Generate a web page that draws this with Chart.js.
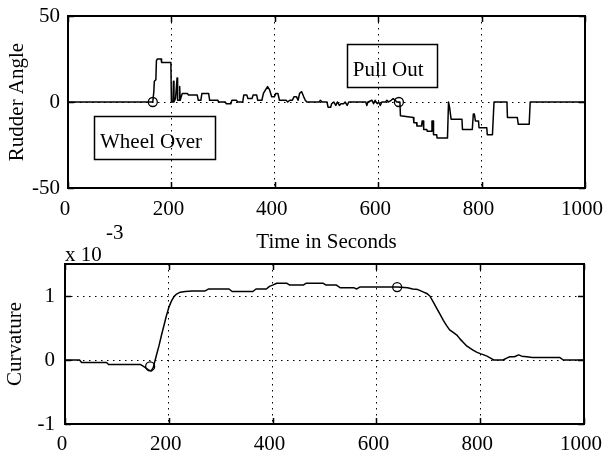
<!DOCTYPE html>
<html>
<head>
<meta charset="utf-8">
<script src="https://cdn.jsdelivr.net/npm/chart.js@4.4.0/dist/chart.umd.min.js"></script>
<style>
  html, body { margin: 0; padding: 0; background: #fff; }
  #wrap { position: relative; width: 604px; height: 457px; }
  #wrap canvas { position: absolute; left: 0; top: 0; }
</style>
</head>
<body>
<div id="wrap">
  <canvas id="rudder" width="604" height="457"></canvas>
  <canvas id="curv" width="604" height="457"></canvas>
</div>
<script>
// rudder angle (deg) against time (s)
const rudderTime = [
  0, 164, 166, 167, 170, 171, 173, 180, 181, 199, 200, 203, 204, 205, 208, 211, 212, 215, 216, 217,
  221, 231, 233, 250, 252, 257, 259, 272, 274, 290, 291, 304, 306, 315, 317, 326, 328, 338, 340,
  346, 348, 356, 358, 365, 367, 375, 378, 382, 386, 390, 394, 399, 402, 406, 409, 422, 425, 429, 434,
  437, 442, 445, 448, 452, 456, 459, 462, 486, 488, 492, 501, 503, 508, 510, 514, 518, 521, 525, 528,
  533, 536, 540, 543, 576, 578, 580, 588, 591, 594, 598, 601, 604, 607, 614, 617, 620, 625, 629, 633,
  636, 642, 643, 668, 669, 674, 675, 684, 685, 687, 688, 694, 695, 703, 704, 706, 707, 713, 714, 734,
  736, 738, 741, 762, 763, 782, 784, 786, 788, 794, 795, 810, 811, 821, 824, 849, 850, 869, 871, 892,
  894, 1000
];
const rudderAngle = [
  0, 0, 6, 12, 13, 24, 25, 25, 23, 23, 0, 0, 12, 0, 2, 14, 1, 1, 9, 1,
  5, 5, 4, 4, 1, 1, 5, 5, 1, 1, 0, 0, -1, -1, 1, 1, 0, 0, 4,
  4, 2, 2, 4, 4, 1, 1, 5, 7, 9, 7, 3, 3, 5, 5, 1, 1, 0, 1, 1,
  3, 3, 1, 5, 6, 3, 1, 0, 0, 1, 0, 0, -3, -3, -1, 0, -2, 0, -2, -1,
  -1, 0, -2, 0, 0, -2, 0, 1, -1, 1, -1, 0, -2, 0, 0, 1, 0, 1, 2, 1,
  0, 0, -8, -9, -12, -12, -14, -14, -11, -11, -16, -16, -17, -17, -11, -11, -19, -19, -21, -21,
  0, -3, -10, -10, -16, -16, -7, -7, -11, -11, -15, -15, -19, -19, 0, 0, -9, -9, -13, -13,
  0, 0
];

// path curvature (x 10^-3) against time (s)
const curvTime = [
  0, 28, 32, 80, 84, 145, 155, 162, 166, 170, 176, 181, 186, 191, 195, 200, 205, 210, 215, 222,
  232, 245, 270, 277, 316, 322, 362, 368, 388, 394, 400, 408, 427, 433, 459, 465, 497, 503, 523, 530,
  556, 562, 568, 600, 640, 660, 670, 680, 691, 697, 703, 710, 716, 723, 729, 735, 741, 748, 755, 761,
  768, 774, 781, 787, 794, 800, 807, 813, 820, 826, 844, 851, 857, 866, 874, 880, 890, 900, 953, 960,
  1000
];
const curvValue = [
  0, 0, -0.04, -0.04, -0.07, -0.07, -0.12, -0.16, -0.17, -0.12, 0.07, 0.22, 0.39, 0.55, 0.68, 0.82, 0.92, 0.99, 1.03, 1.06,
  1.07, 1.08, 1.08, 1.11, 1.11, 1.07, 1.07, 1.11, 1.11, 1.15, 1.17, 1.2, 1.2, 1.17, 1.17, 1.2, 1.2, 1.17, 1.17, 1.13,
  1.13, 1.11, 1.14, 1.14, 1.14, 1.13, 1.11, 1.1, 1.06, 1.04, 1.0, 0.9, 0.81, 0.71, 0.62, 0.54, 0.47, 0.43, 0.39, 0.33,
  0.27, 0.22, 0.18, 0.15, 0.12, 0.1, 0.08, 0.06, 0.03, 0.0, 0.0, 0.03, 0.05, 0.05, 0.08, 0.06, 0.05, 0.04, 0.04, 0.0,
  0.0
];

// wheel over / pull out instants
const eventTime = [164, 640];
const eventRudder = [0, 0];
const eventCurv = [-0.1, 1.14];
const eventNames = ['Wheel Over', 'Pull Out'];
// text anchors (time, rudder angle) for the two boxed labels
const eventLabelAt = [[62, -27], [551, 15]];

const timeTicks = [0, 200, 400, 600, 800, 1000];
const rudderTicks = [-50, 0, 50];
const curvTicks = [-1, 0, 1];

const FONT = "'Liberation Serif', 'Times New Roman', serif";
const font = { family: FONT, size: 21 };

function pts(xs, ys) {
  return xs.map((x, i) => ({ x, y: ys[i] }));
}

// pin axis thickness so both plot boxes land where we want them
function fixSize(size) {
  return scale => {
    if (scale.isHorizontal()) scale.height = size;
    else scale.width = size;
    scale.paddingLeft = scale.paddingRight = scale.paddingTop = scale.paddingBottom = 0;
  };
}

function useTicks(list) {
  return scale => { scale.ticks = list.map(value => ({ value })); };
}

// MATLAB-ish axes box with inward tick marks
const frame = {
  id: 'frame',
  afterDatasetsDraw(chart) {
    const { ctx, chartArea: a, scales } = chart;
    ctx.save();
    ctx.strokeStyle = '#000';
    ctx.lineWidth = 1.5;
    ctx.beginPath();
    scales.x.ticks.forEach(t => {
      const px = Math.round(scales.x.getPixelForValue(t.value)) + 0.5;
      ctx.moveTo(px, a.bottom); ctx.lineTo(px, a.bottom - 6);
      ctx.moveTo(px, a.top); ctx.lineTo(px, a.top + 6);
    });
    scales.y.ticks.forEach(t => {
      const py = Math.round(scales.y.getPixelForValue(t.value)) + 0.5;
      ctx.moveTo(a.left, py); ctx.lineTo(a.left + 6, py);
      ctx.moveTo(a.right, py); ctx.lineTo(a.right - 6, py);
    });
    ctx.stroke();
    ctx.lineWidth = 2;
    ctx.strokeRect(a.left, a.top, a.width, a.height);
    ctx.restore();
  }
};

const boxedLabels = {
  id: 'boxedLabels',
  afterDraw(chart) {
    const { ctx, scales } = chart;
    ctx.save();
    ctx.font = `21px ${FONT}`;
    ctx.fillStyle = '#000';
    ctx.strokeStyle = '#000';
    ctx.lineWidth = 1.5;
    ctx.textBaseline = 'alphabetic';
    eventNames.forEach((name, i) => {
      const x = scales.x.getPixelForValue(eventLabelAt[i][0]);
      const y = scales.y.getPixelForValue(eventLabelAt[i][1]);
      const w = ctx.measureText(name).width;
      ctx.fillText(name, x, y);
      ctx.strokeRect(Math.round(x - 6) + 0.5, Math.round(y - 32) + 0.5, Math.round(w + 19), 43);
    });
    ctx.restore();
  }
};

const exponent = {
  id: 'exponent',
  afterDraw(chart) {
    const { ctx, chartArea: a } = chart;
    ctx.save();
    ctx.font = `21px ${FONT}`;
    ctx.fillStyle = '#000';
    ctx.textBaseline = 'alphabetic';
    ctx.fillText('x 10', a.left, a.top - 3);
    ctx.fillText('-3', a.left + 41, a.top - 25);
    ctx.restore();
  }
};

function axisX(height, tickPad, title) {
  return {
    type: 'linear', min: 0, max: 1000,
    afterBuildTicks: useTicks(timeTicks),
    afterFit: fixSize(height),
    grid: { color: '#000', lineWidth: 1, drawTicks: false },
    border: { display: false, dash: [1.5, 4.5] },
    ticks: {
      font, color: '#000', padding: tickPad, labelOffset: -3, maxRotation: 0, autoSkip: false,
      callback: v => String(v)
    },
    title: title
      ? { display: true, text: title, font, color: '#000', padding: { top: 0, bottom: 3 } }
      : { display: false }
  };
}

function axisY(min, max, ticks, width, tickPad, title, titlePad) {
  return {
    min, max,
    afterBuildTicks: useTicks(ticks),
    afterFit: fixSize(width),
    grid: { color: '#000', lineWidth: 1, drawTicks: false },
    border: { display: false, dash: [1.5, 4.5] },
    ticks: { font, color: '#000', padding: tickPad, callback: v => String(v) },
    title: { display: true, text: title, font, color: '#000', padding: { top: titlePad, bottom: 0 } }
  };
}

function lineSet(data) {
  return {
    data, borderColor: '#000', borderWidth: 1.5, pointRadius: 0,
    borderJoinStyle: 'round', tension: 0, fill: false
  };
}

function markerSet(data) {
  return {
    data, showLine: false, pointStyle: 'circle', pointRadius: 4.5,
    pointBorderColor: '#000', pointBackgroundColor: 'rgba(0,0,0,0)', pointBorderWidth: 1.3
  };
}

const common = {
  responsive: false,
  animation: false,
  devicePixelRatio: 1,
  plugins: { legend: { display: false }, tooltip: { enabled: false } },
  events: []
};

new Chart(document.getElementById('rudder'), {
  type: 'line',
  data: { datasets: [lineSet(pts(rudderTime, rudderAngle)), markerSet(pts(eventTime, eventRudder))] },
  options: {
    ...common,
    layout: { padding: { left: 0, top: 16, right: 19, bottom: 199 } },
    scales: {
      x: axisX(70, 9, 'Time in Seconds'),
      y: axisY(-50, 50, rudderTicks, 68, 8, 'Rudder Angle', 5)
    }
  },
  plugins: [frame, boxedLabels]
});

new Chart(document.getElementById('curv'), {
  type: 'line',
  data: { datasets: [lineSet(pts(curvTime, curvValue)), markerSet(pts(eventTime, eventCurv))] },
  options: {
    ...common,
    layout: { padding: { left: 0, top: 264, right: 20, bottom: 0 } },
    scales: {
      x: axisX(33, 8, null),
      y: axisY(-1, 1.5, curvTicks, 65, 10, 'Curvature', 3)
    }
  },
  plugins: [frame, exponent]
});
</script>
</body>
</html>
